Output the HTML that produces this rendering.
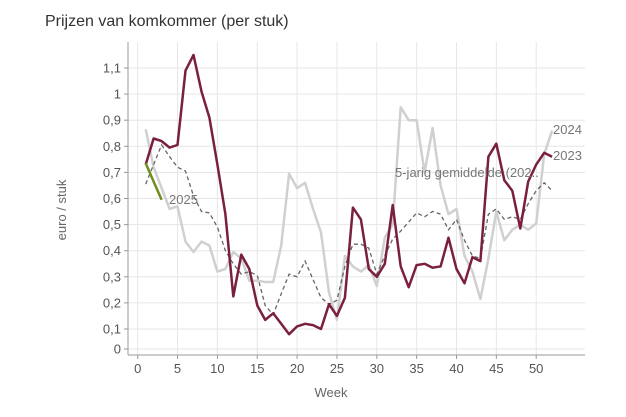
<!DOCTYPE html>
<html><head><meta charset="utf-8"><style>
html,body{margin:0;padding:0;background:#fff;}
svg{display:block;font-family:"Liberation Sans",sans-serif;}
</style></head><body>
<svg id="c" width="626" height="417" viewBox="0 0 626 417" xmlns="http://www.w3.org/2000/svg">
<text x="45" y="26" font-size="16" fill="#333">Prijzen van komkommer (per stuk)</text>
<g id="grid"></g>
<text transform="translate(66,210) rotate(-90)" font-size="13" fill="#666" text-anchor="middle">euro / stuk</text>
<text x="331" y="397" font-size="13" fill="#666" text-anchor="middle">Week</text>
<g id="lines"></g>
<text x="169" y="204" font-size="13" fill="#777">2025</text>
<text x="395" y="177" font-size="13" fill="#777">5-jarig gemiddelde (202..</text>
<text x="553" y="134" font-size="13" fill="#777">2024</text>
<text x="553" y="160" font-size="13" fill="#777">2023</text>
</svg>
<script>
var NS="http://www.w3.org/2000/svg";
function X(w){return 137.7+7.97*w;}
function Y(v){return 329-(v-0.1)*261;}
var g=document.getElementById('grid'),L=document.getElementById('lines');
function el(p,t,a,txt){var e=document.createElementNS(NS,t);for(var k in a)e.setAttribute(k,a[k]);if(txt!=null)e.textContent=txt;p.appendChild(e);return e;}
for(var i=1;i<=11;i++){var v=i/10,y=Y(v);
 el(g,'line',{x1:128,x2:585,y1:y,y2:y,stroke:'#e6e6e6','stroke-width':1});
 el(g,'line',{x1:124,x2:128,y1:y,y2:y,stroke:'#999'});
 el(g,'text',{x:121,y:y+4.5,'font-size':13,fill:'#555','text-anchor':'end'},(i==10?'1':(Math.floor(i/10)+','+(i%10))));}
el(g,'line',{x1:128,x2:585,y1:349,y2:349,stroke:'#e6e6e6'});
el(g,'line',{x1:124,x2:128,y1:349,y2:349,stroke:'#999'});
el(g,'text',{x:121,y:353.5,'font-size':13,fill:'#555','text-anchor':'end'},'0');
for(var w=0;w<=50;w+=5){var x=X(w);
 el(g,'line',{x1:x,x2:x,y1:42,y2:355,stroke:'#e6e6e6'});
 el(g,'line',{x1:x,x2:x,y1:355,y2:359,stroke:'#999'});
 el(g,'text',{x:x,y:373,'font-size':13,fill:'#555','text-anchor':'middle'},String(w));}
el(g,'line',{x1:128,x2:128,y1:42,y2:355,stroke:'#999'});
el(g,'line',{x1:128,x2:585,y1:355,y2:355,stroke:'#999'});
var d23=[0.73,0.83,0.82,0.795,0.805,1.09,1.15,1.01,0.91,0.73,0.54,0.225,0.385,0.33,0.19,0.135,0.16,0.12,0.08,0.11,0.12,0.115,0.10,0.195,0.15,0.22,0.565,0.52,0.33,0.30,0.35,0.575,0.34,0.26,0.345,0.35,0.335,0.34,0.45,0.33,0.275,0.375,0.36,0.76,0.81,0.67,0.63,0.485,0.665,0.73,0.775,0.76];
var d24=[0.865,0.72,0.64,0.56,0.57,0.435,0.395,0.435,0.42,0.32,0.33,0.395,0.37,0.285,0.285,0.28,0.28,0.42,0.695,0.64,0.66,0.56,0.47,0.24,0.135,0.38,0.34,0.32,0.345,0.265,0.45,0.5,0.95,0.9,0.9,0.7,0.87,0.65,0.54,0.56,0.38,0.32,0.215,0.37,0.55,0.44,0.48,0.5,0.48,0.505,0.77,0.86];
var dav=[0.655,0.73,0.805,0.76,0.72,0.705,0.61,0.55,0.545,0.49,0.40,0.35,0.31,0.32,0.305,0.19,0.155,0.235,0.31,0.30,0.36,0.29,0.22,0.195,0.21,0.34,0.425,0.425,0.41,0.31,0.38,0.445,0.475,0.51,0.545,0.53,0.55,0.54,0.48,0.52,0.44,0.38,0.37,0.54,0.56,0.52,0.53,0.52,0.58,0.63,0.66,0.63];
var d25=[0.735,0.665,0.595];
function pts(d){return d.map(function(v,i){return X(i+1).toFixed(1)+','+Y(v).toFixed(1);}).join(' ');}
el(L,'polyline',{points:pts(d24),fill:'none',stroke:'#d0d0d0','stroke-width':2.5,'stroke-linejoin':'round'});
el(L,'polyline',{points:pts(dav),fill:'none',stroke:'#666','stroke-width':1.3,'stroke-dasharray':'4,3'});
el(L,'polyline',{points:pts(d23),fill:'none',stroke:'#7a1f3d','stroke-width':2.5,'stroke-linejoin':'round'});
el(L,'polyline',{points:pts(d25),fill:'none',stroke:'#6f8f1a','stroke-width':2.5});
</script>
</body></html>
